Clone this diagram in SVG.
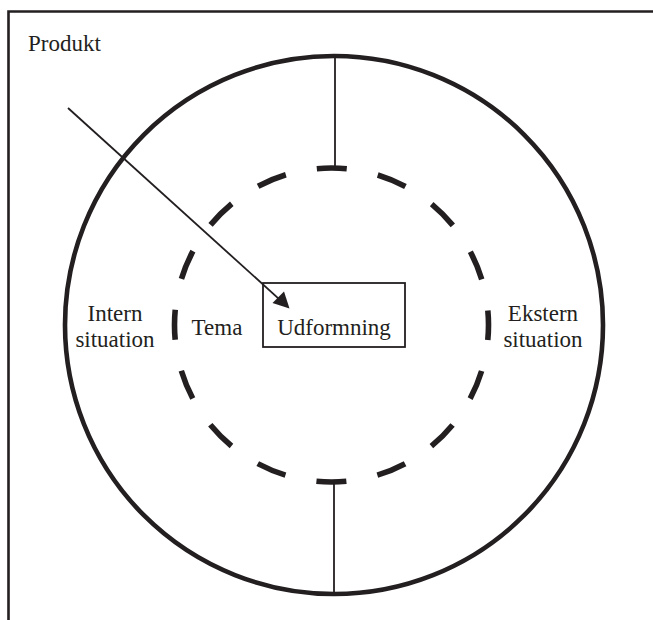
<svg xmlns="http://www.w3.org/2000/svg" width="653" height="620" viewBox="0 0 653 620">
  <style>
    .lbl { font-family: "Liberation Serif", "Times New Roman", serif; font-size: 23px; fill: #231f20; }
    .mid { text-anchor: middle; }
    .ink { stroke: #231f20; fill: none; }
  </style>
  <rect width="653" height="620" fill="#ffffff"/>

  <!-- frame: top and left edges only -->
  <g id="frame" class="ink">
    <path d="M8.5,620 L8.5,11.5 L653,11.5" stroke-width="2.6"/>
  </g>

  <g id="produkt">
    <text class="lbl" x="28" y="51">Produkt</text>
  </g>

  <!-- outer boundary: situation -->
  <g id="situation">
    <circle class="ink" cx="334" cy="325" r="269" stroke-width="4.6"/>
    <text class="lbl mid" x="115" y="320.5">Intern</text>
    <text class="lbl mid" x="115" y="346.5">situation</text>
    <text class="lbl mid" x="543" y="320.5">Ekstern</text>
    <text class="lbl mid" x="543" y="346.5">situation</text>
  </g>

  <!-- inner dashed boundary: tema (16 dashes, one every 22.5 degrees) -->
  <g id="tema">
    <circle class="ink" cx="331.5" cy="325" r="157" stroke-width="5.6" stroke-dasharray="30 31.654" stroke-dashoffset="15"/>
    <text class="lbl mid" x="217" y="335">Tema</text>
  </g>

  <g id="udformning">
    <rect class="ink" x="263" y="283" width="142" height="64" stroke-width="1.8"/>
    <text class="lbl mid" x="334" y="335">Udformning</text>
  </g>

  <g id="connectors" class="ink" stroke-width="1.8">
    <line x1="335" y1="56" x2="335" y2="168"/>
    <line x1="334" y1="482" x2="334" y2="593"/>
    <line x1="68" y1="108" x2="286" y2="305.3"/>
    <path d="M289.5,308.5 L272.5,303 L284,291.5 Z" fill="#231f20" stroke="none"/>
  </g>
</svg>
